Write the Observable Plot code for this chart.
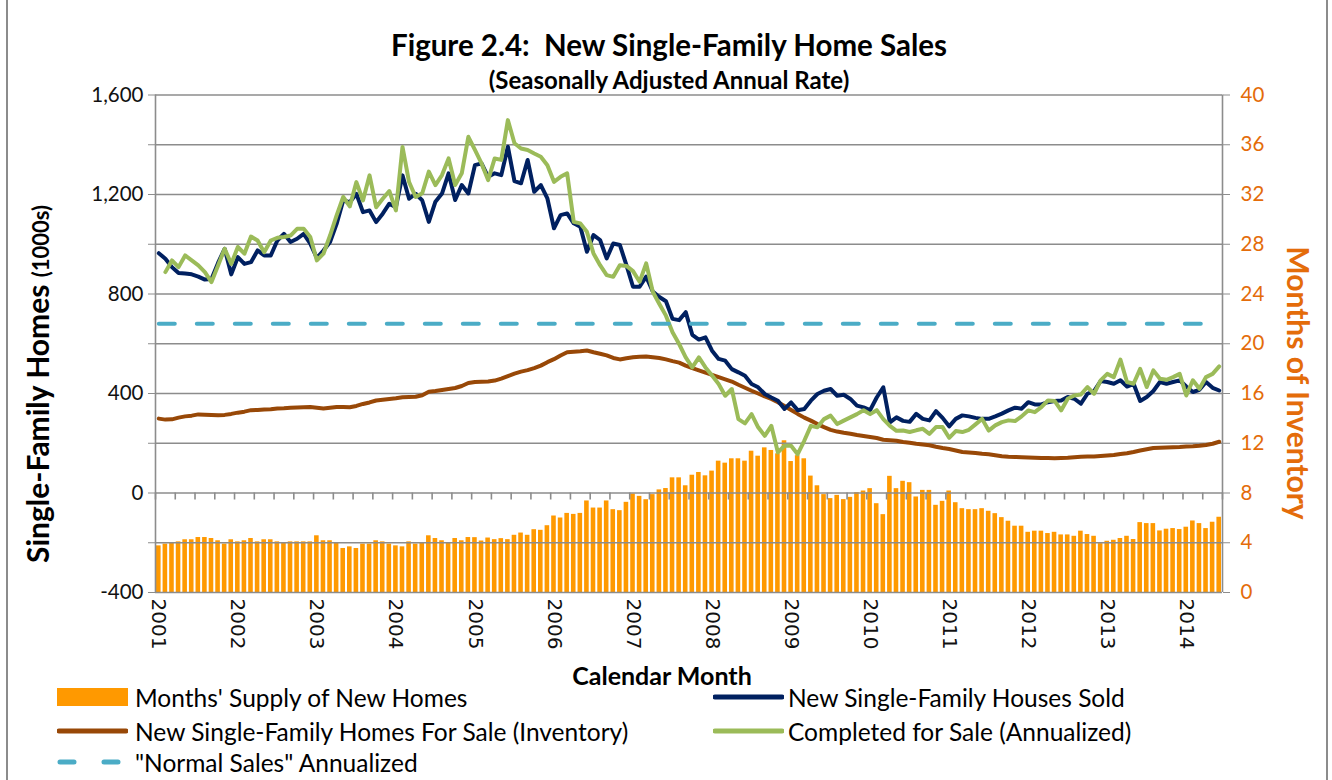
<!DOCTYPE html>
<html>
<head>
<meta charset="utf-8">
<script src="https://cdn.jsdelivr.net/npm/d3@7"></script>
<script src="https://cdn.jsdelivr.net/npm/@observablehq/plot@0.6"></script>
<style>
  body { margin: 0; background: #fff; font-family: Lato, "Open Sans", sans-serif; }
  #wrap { position: relative; width: 1332px; height: 780px; overflow: hidden; background: #fff; }
  .vb { position: absolute; top: 0; bottom: 0; width: 2px; background: #8c8c8c; }
  #hdr { position: relative; height: 86px; }
  #title { position: absolute; left: 0; width: 1338px; text-align: center; top: 28px; font-weight: 700; font-size: 29.5px; line-height: 34px; color: #000; white-space: pre; }
  #sub { position: absolute; left: 0; width: 1338px; text-align: center; top: 66px; font-weight: 700; font-size: 24px; line-height: 27px; color: #000; }
  #chart svg { display: block; }
  #legend { position: relative; height: 94px; font-size: 24.5px; color: #000; }
  .li { position: absolute; height: 28px; display: flex; align-items: center; white-space: nowrap; }
  .li svg { display: block; }
</style>
</head>
<body>
<div id="wrap">
  <div class="vb" style="left:6px"></div>
  <div class="vb" style="left:1326px"></div>
  <div id="hdr">
    <div id="title">Figure 2.4:  New Single-Family Home Sales</div>
    <div id="sub">(Seasonally Adjusted Annual Rate)</div>
  </div>
  <div id="chart"></div>
  <div id="legend"></div>
</div>
<script>
// ---------------- DATA (monthly, Jan 2001 - Jun 2014) ----------------
const yearLabels = ["2001","2002","2003","2004","2005","2006","2007","2008","2009","2010","2011","2012","2013","2014"];

// Months' Supply of New Homes (right axis, months)
const monthsSupply = [
  3.75,3.89,3.97,4.07,4.24,4.24,4.42,4.42,4.34,4.16,
  3.89,4.24,4.07,4.16,4.34,4.07,4.24,4.24,4.07,3.97,
  4.07,4.07,4.07,4.07,4.56,4.16,4.16,3.97,3.54,3.67,
  3.54,3.89,3.89,4.16,4.07,3.89,3.75,3.67,4.07,3.89,
  3.97,4.56,4.34,4.16,3.97,4.34,4.16,4.42,4.41,4.14,
  4.38,4.25,4.33,4.25,4.6,4.78,4.6,5.05,5.0,5.37,
  6.15,5.99,6.36,6.28,6.36,7.36,6.79,6.79,7.36,6.66,
  6.58,7.25,7.92,7.73,7.46,7.87,8.25,8.36,9.22,9.22,
  8.58,9.43,9.65,9.38,9.76,10.56,10.4,10.75,10.75,10.56,
  11.36,10.96,11.63,11.42,11.15,12.2,10.53,11.0,10.75,9.36,
  8.58,7.87,7.55,7.81,7.47,7.65,8.03,8.16,8.35,7.14,
  6.26,9.34,8.35,8.94,8.83,7.68,8.21,8.21,7.01,7.33,
  8.16,7.22,6.74,6.66,6.66,6.74,6.53,6.34,6.02,5.73,
  5.33,5.33,4.84,4.93,4.93,4.74,4.84,4.63,4.63,4.52,
  4.93,4.66,4.52,3.93,4.12,4.2,4.34,4.52,4.26,5.62,
  5.54,5.54,4.95,5.09,5.14,5.06,5.25,5.75,5.54,5.14,
  5.65,6.05
];

// New Single-Family Houses Sold (thousands, SAAR)
const sold = [
  964,942,908,884,882,879,870,858,860,925,
  982,879,948,921,928,975,955,955,1015,1042,
  1009,1022,1042,1002,945,975,1009,1082,1176,1169,
  1203,1129,1136,1089,1123,1163,1149,1277,1183,1203,
  1176,1090,1171,1204,1285,1178,1238,1204,1318,1325,
  1271,1285,1278,1392,1254,1245,1339,1211,1238,1184,
  1064,1117,1124,1084,1070,970,1037,1017,943,1003,
  997,916,829,829,870,810,788,771,700,695,
  727,636,617,626,572,539,532,498,485,471,
  438,425,398,384,371,338,364,333,338,371,
  398,411,418,391,395,378,351,344,333,384,
  425,284,304,290,286,318,298,292,329,302,
  268,298,312,308,302,298,298,308,319,332,
  343,339,365,356,356,365,370,372,386,379,
  359,399,410,450,446,439,453,428,439,370,
  386,410,446,439,446,453,428,406,415,446,
  423,412
];

// New Single-Family Homes For Sale (Inventory, thousands)
const forSale = [
  299,295,296,303,308,311,316,315,314,313,
  314,318,323,327,333,334,336,337,340,341,
  343,344,345,346,343,340,343,346,346,345,
  350,358,364,372,375,378,381,385,386,387,
  393,407,410,414,418,422,430,442,446,447,
  448,452,460,470,480,488,494,502,512,526,
  538,553,566,568,570,573,566,560,553,543,
  537,542,546,548,549,546,543,537,530,524,
  512,502,493,484,475,466,457,448,435,423,
  411,400,388,378,365,350,334,318,303,291,
  277,265,254,247,242,238,233,229,225,221,
  214,212,210,205,202,198,195,192,186,181,
  177,171,165,163,161,158,156,152,148,146,
  145,144,143,142,141,141,140,141,142,144,
  146,147,147,149,151,153,157,160,165,171,
  176,181,182,183,184,185,187,188,190,193,
  198,206
];

// Completed for Sale (Annualized, thousands)
const completed = [
  null,888,935,908,955,935,915,888,848,915,
  982,921,989,962,1031,1015,968,1015,1026,1029,
  1035,1062,1062,1029,935,962,1035,1116,1190,1152,
  1250,1176,1277,1149,1183,1214,1136,1391,1250,1190,
  1205,1292,1238,1278,1345,1238,1285,1432,1379,1325,
  1258,1345,1339,1499,1406,1385,1379,1365,1352,1318,
  1251,1271,1285,1090,1084,1050,963,916,876,869,
  916,913,892,849,923,809,760,713,646,599,
  545,505,545,505,472,438,391,418,297,280,
  317,264,230,270,163,190,190,156,210,270,
  264,297,311,277,291,304,317,333,317,333,
  297,270,250,251,245,252,258,238,265,265,
  222,249,245,254,276,298,251,272,285,292,
  289,308,332,325,345,372,370,332,379,392,
  396,426,399,453,479,466,536,446,439,499,
  426,493,459,455,466,479,392,453,419,466,
  479,509
];

// "Normal Sales" Annualized (thousands)
const normalSales = 680;

// Axis definitions
const leftMin = -400, leftMax = 1600, leftStep = 200, leftLabelStep = 400;
const rightMax = 40; // months of inventory at top of right axis

// ---------------- BUILD ----------------
const n = sold.length;
const toLeft = m => leftMin + m * (leftMax - leftMin) / rightMax;   // months -> left-axis units
const fromLeft = v => (v - leftMin) * rightMax / (leftMax - leftMin);
const table = sold.map((s, i) => ({
  i, xc: i + 0.5, sold: s, forSale: forSale[i], completed: completed[i], supply: monthsSupply[i]
}));
const gridVals = d3.range(leftMin, leftMax + 1, leftStep);
const quarterTicks = d3.range(0, n + 1, 3);
const yearTicks = yearLabels.map((y, k) => k * 12 + 0.5);
const fmtLeft = d => d3.format(",")(d).replace("\u2212", "-");

const GRID = "#8c8c8c";
const ORANGE_TXT = "#E46C0A";

const chart = Plot.plot({
  width: 1332,
  height: 600,
  marginLeft: 155,
  marginRight: 110,
  marginTop: 8.5,
  marginBottom: 94,
  x: { type: "linear", domain: [0, n] },
  y: { domain: [leftMin, leftMax] },
  style: { fontFamily: "Lato, sans-serif", fontSize: "20px", background: "transparent", overflow: "visible" },
  marks: [
    Plot.rect(table, {
      x1: "i", x2: d => d.i + 1,
      y1: () => toLeft(0), y2: d => toLeft(d.supply),
      fill: "#FF9900", insetLeft: 1, insetRight: 1
    }),
    Plot.ruleY(gridVals, { stroke: GRID, strokeWidth: 1.6 }),
    Plot.ruleX([0, n], { stroke: GRID, strokeWidth: 1.6 }),
    Plot.ruleX(quarterTicks, { y1: 0, y2: 0, insetBottom: -7, stroke: GRID, strokeWidth: 1.6 }),
    Plot.axisY({
      anchor: "left", ticks: gridVals, tickSize: 7, tickPadding: 5,
      tickFormat: d => (d % leftLabelStep === 0 ? fmtLeft(d) : ""),
      stroke: GRID, fill: "#111", fontSize: 20.5, label: null
    }),
    Plot.axisY({
      anchor: "right", ticks: gridVals, tickSize: 7, tickPadding: 11,
      tickFormat: d => String(fromLeft(d)),
      stroke: GRID, fill: ORANGE_TXT, fontSize: 20.5, label: null
    }),
    Plot.axisX({
      anchor: "bottom", ticks: yearTicks, tickSize: 0, tickPadding: 6, tickRotate: 90,
      tickFormat: d => yearLabels[yearTicks.indexOf(d)],
      fontFamily: "DejaVu Sans, sans-serif", fontSize: 20, fill: "#111", label: null
    }),
    Plot.line(table, { x: "xc", y: "forSale", stroke: "#984807", strokeWidth: 4 }),
    Plot.line(table, { x: "xc", y: "sold", stroke: "#002060", strokeWidth: 4 }),
    Plot.line(table, { x: "xc", y: "completed", stroke: "#9BBB59", strokeWidth: 4 }),
    Plot.line(table, { x: "xc", y: () => normalSales, stroke: "#4BACC6", strokeWidth: 4, strokeDasharray: "16,22", strokeLinecap: "round" })
  ]
});

// axis titles
const svg = d3.select(chart);
const lt = svg.append("text")
  .attr("transform", "translate(42,298) rotate(-90)")
  .attr("text-anchor", "middle").attr("dy", "0.35em")
  .style("font-family", "Lato, sans-serif").style("font-weight", 700).attr("fill", "#000");
lt.append("tspan").style("font-size", "30px").text("Single-Family Homes ");
lt.append("tspan").style("font-size", "22px").text("(1000s)");

svg.append("text")
  .attr("transform", "translate(1297,297) rotate(90)")
  .attr("text-anchor", "middle").attr("dy", "0.35em")
  .style("font-family", "Lato, sans-serif").style("font-weight", 700).style("font-size", "30px")
  .attr("fill", ORANGE_TXT).text("Months of Inventory");

svg.append("text")
  .attr("x", 662).attr("y", 599).attr("text-anchor", "middle")
  .style("font-family", "Lato, sans-serif").style("font-weight", 700).style("font-size", "25px")
  .attr("fill", "#000").text("Calendar Month");

document.getElementById("chart").appendChild(chart);

// ---------------- LEGEND ----------------
const legendItems = [
  { label: "Months' Supply of New Homes", kind: "bar", color: "#FF9900", left: 57, top: -3 },
  { label: "New Single-Family Houses Sold", kind: "line", color: "#002060", left: 713, top: -3 },
  { label: "New Single-Family Homes For Sale (Inventory)", kind: "line", color: "#984807", left: 57, top: 31 },
  { label: "Completed for Sale (Annualized)", kind: "line", color: "#9BBB59", left: 713, top: 31 },
  { label: "\"Normal Sales\" Annualized", kind: "dash", color: "#4BACC6", left: 57, top: 62 }
];
const leg = d3.select("#legend");
legendItems.forEach(it => {
  const div = leg.append("div").attr("class", "li").style("left", it.left + "px").style("top", it.top + "px");
  const s = div.append("svg").attr("width", 71).attr("height", 22);
  if (it.kind === "bar") {
    s.append("rect").attr("x", 0).attr("y", 2).attr("width", 71).attr("height", 18).attr("fill", it.color);
  } else if (it.kind === "line") {
    s.append("line").attr("x1", 2).attr("x2", 69).attr("y1", 11).attr("y2", 11)
      .attr("stroke", it.color).attr("stroke-width", 5).attr("stroke-linecap", "round");
  } else {
    s.append("line").attr("x1", 3).attr("x2", 69).attr("y1", 11).attr("y2", 11)
      .attr("stroke", it.color).attr("stroke-width", 5).attr("stroke-linecap", "round")
      .attr("stroke-dasharray", "14,30");
  }
  div.append("span").style("margin-left", (it.left > 100 ? 4 : 7) + "px").text(it.label);
});
</script>
</body>
</html>
